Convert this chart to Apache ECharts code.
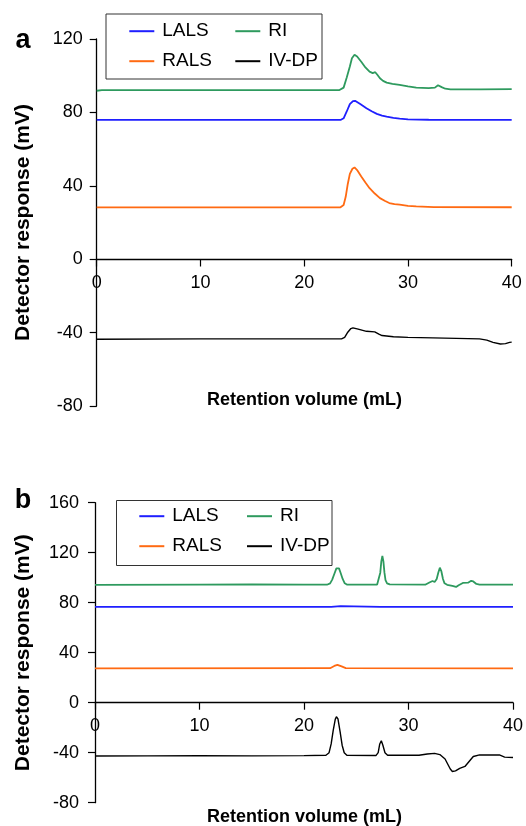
<!DOCTYPE html>
<html>
<head>
<meta charset="utf-8">
<script src="https://cdn.jsdelivr.net/npm/echarts@6/dist/echarts.min.js"></script>
<style>
  html, body { margin: 0; padding: 0; background: #fff; }
  #chart { width: 526px; height: 826px; }
</style>
</head>
<body>
<div id="chart"></div>
<script>
// panel a : [retention volume mL, detector response mV]
var riA = [[0,91.8],[0.5,92.1],[10,92.1],[20,92.1],[23.4,92.2],[23.8,93.5],[24.1,99],[24.4,105],[24.6,109.5],[24.85,111.4],[25.1,110.5],[25.5,107.6],[25.9,104.5],[26.3,102.2],[26.6,101.4],[26.85,101.9],[27.05,100.5],[27.3,98.6],[27.6,97.2],[27.95,96.2],[28.5,95.5],[29.2,95],[30,94.2],[30.8,93.5],[32,93.2],[32.6,93.5],[32.9,94.8],[33.25,93.8],[33.6,92.9],[34.1,92.6],[37,92.6],[40,92.7]];
var lalsA = [[0,75.9],[10,75.9],[20,75.9],[23.5,75.9],[23.8,76.8],[24.1,80.5],[24.4,84.5],[24.7,86.2],[24.9,86.3],[25.4,84.6],[26,82.3],[26.5,80.6],[27,79.2],[27.5,78.3],[27.95,77.7],[28.6,77],[29.2,76.6],[30,76.2],[32,76],[40,75.9]];
var ralsA = [[0,28.2],[10,28.2],[20,28.2],[23.5,28.3],[23.8,29.5],[24.0,34],[24.2,41],[24.4,46.5],[24.65,49.3],[24.85,50],[25.1,48.6],[25.5,45.1],[25.9,41.8],[26.3,38.7],[26.8,35.8],[27.3,33.3],[27.8,31.7],[28.2,30.6],[28.7,30],[29.2,29.7],[30,29.1],[30.8,28.8],[32.5,28.4],[40,28.3]];
var ivdpA = [[0,-43.6],[10,-43.4],[20,-43.4],[23.6,-43.4],[23.9,-42.6],[24.2,-39.8],[24.5,-37.8],[24.7,-37.4],[25.2,-38.1],[26,-39.3],[26.8,-39.6],[27.2,-40.8],[27.5,-41.6],[28.6,-42.3],[30,-42.6],[32.4,-42.9],[36.9,-43.4],[37.6,-44.1],[38.2,-45.3],[38.9,-46.2],[39.4,-46],[39.8,-45.3],[40,-45.2]];

// panel b
var riB = [[0,94.2],[10,94.5],[15,94.6],[20,94.4],[22.2,94.4],[22.5,95.5],[22.7,98.5],[22.9,103],[23.1,107.5],[23.2,108.8],[23.35,107.5],[23.5,104],[23.7,99],[23.9,95.5],[24.1,94.5],[27.0,94.5],[27.15,96],[27.3,104],[27.4,113],[27.5,117.4],[27.6,113],[27.7,104],[27.8,98],[27.95,95.5],[28.2,94.6],[31.6,94.4],[32.0,96.2],[32.3,97.4],[32.5,96.6],[32.7,99],[32.85,104],[33.0,108],[33.15,105],[33.3,99],[33.45,95.5],[33.7,94.3],[34.2,93.4],[34.55,92.6],[34.8,94],[35.2,95.8],[35.7,96],[36.0,97.5],[36.2,97],[36.5,95],[36.8,94.4],[40,94.4]];
var lalsB = [[0,76.6],[22.6,76.6],[22.7,77.3],[23.5,77.3],[23.6,76.6],[27.3,76.6],[27.4,75.9],[27.5,76.6],[40,76.6]];
var ralsB = [[0,27.5],[22.5,27.6],[22.9,29.4],[23.2,30.3],[23.6,29],[24,27.7],[40,27.5]];
var ivdpB = [[0,-42.6],[5,-42.5],[10,-42.4],[15,-42.5],[20,-42.3],[22.1,-42],[22.4,-40],[22.6,-33],[22.8,-22],[23.0,-13],[23.1,-11.2],[23.25,-13],[23.45,-23],[23.65,-34],[23.85,-40],[24.1,-42],[26.9,-42.2],[27.1,-40],[27.25,-33],[27.4,-30.4],[27.55,-34],[27.75,-40],[28,-42],[31,-42],[31.8,-41],[32.5,-40.5],[33.0,-41.5],[33.5,-45],[34.0,-53],[34.2,-55],[34.5,-54.5],[34.9,-52.5],[35.4,-51],[35.8,-47],[36.2,-43],[36.8,-41.7],[38.7,-41.8],[39.2,-43.5],[40,-43.8]];

var names = ['LALS', 'RALS', 'RI', 'IV-DP'];
var colors = ['#1f1fff', '#ff6a12', '#2e9a5e', '#000000'];

var font = 'Liberation Sans, Arial, sans-serif';

var chart = echarts.init(document.getElementById('chart'));

function mkSeries(name, data, gi) {
  var c = colors[names.indexOf(name)];
  return {
    name: name, type: 'line', data: data,
    xAxisIndex: gi, yAxisIndex: gi,
    symbol: 'none', showSymbol: false, silent: true,
    lineStyle: { color: c, width: name === 'IV-DP' ? 1.4 : 1.8 },
    itemStyle: { color: c },
    z: 3
  };
}

// x axis sits at y = 0, inside the plot: pushed up from the bottom with a negative offset
function mkX(gi, margin, offset) {
  return {
    type: 'value', gridIndex: gi, min: 0, max: 40, interval: 10,
    position: 'bottom', offset: offset,
    axisLine: { onZero: false, lineStyle: { color: '#000', width: 1.3 } },
    axisTick: { length: 7, lineStyle: { color: '#000', width: 1.2 } },
    axisLabel: { fontSize: 18, color: '#000', margin: margin, fontFamily: font },
    splitLine: { show: false }
  };
}

function mkY(gi, min, max, margin, gap) {
  return {
    type: 'value', gridIndex: gi, min: min, max: max, interval: 40,
    axisLine: { show: true, onZero: false, lineStyle: { color: '#000', width: 1.3 } },
    axisTick: { show: true, length: 7, lineStyle: { color: '#000', width: 1.2 } },
    axisLabel: { fontSize: 18, color: '#000', margin: margin, fontFamily: font },
    splitLine: { show: false },
    name: 'Detector response (mV)', nameLocation: 'middle', nameGap: gap,
    nameTextStyle: { fontSize: 21, fontWeight: 'bold', color: '#000', fontFamily: font }
  };
}

function mkLegend(data, left, top) {
  return {
    data: data, orient: 'vertical', left: left, top: top,
    padding: 0, itemGap: 11, itemWidth: 25, itemHeight: 20,
    itemStyle: { opacity: 0 },
    textStyle: { fontSize: 19, color: '#000', fontFamily: font, padding: [0, 0, 0, 3] },
    selectedMode: false
  };
}

chart.setOption({
  animation: false,
  backgroundColor: '#fff',
  grid: [
    { left: 96.7, right: 14.3, top: 39, bottom: 420 },
    { left: 95, right: 12.7, top: 502.7, bottom: 23.3 }
  ],
  xAxis: [mkX(0, 15, -146.5), mkX(1, 14, -100)],
  yAxis: [mkY(0, -80, 120, 14, 63), mkY(1, -80, 160, 16, 61)],
  legend: [
    mkLegend(['LALS', 'RALS'], 128.3, 21.7),
    mkLegend(['RI', 'IV-DP'], 234.3, 21.7),
    mkLegend(['LALS', 'RALS'], 138.3, 506.7),
    mkLegend(['RI', 'IV-DP'], 246, 506.7)
  ],
  graphic: [
    { type: 'rect', shape: { x: 106, y: 14, width: 216, height: 65 }, style: { fill: '#fff', stroke: '#333', lineWidth: 1 }, z: 1 },
    { type: 'rect', shape: { x: 116.5, y: 500.5, width: 215.5, height: 65 }, style: { fill: '#fff', stroke: '#333', lineWidth: 1 }, z: 1 },
    { type: 'text', style: { text: 'a', x: 23, y: 41, textAlign: 'center', textVerticalAlign: 'middle', font: 'bold 27px ' + font, fill: '#000' } },
    { type: 'text', style: { text: 'b', x: 23, y: 501, textAlign: 'center', textVerticalAlign: 'middle', font: 'bold 27px ' + font, fill: '#000' } },
    { type: 'text', style: { text: 'Retention volume (mL)', x: 304.5, y: 400, textAlign: 'center', textVerticalAlign: 'middle', font: 'bold 18px ' + font, fill: '#000' } },
    { type: 'text', style: { text: 'Retention volume (mL)', x: 304.5, y: 817, textAlign: 'center', textVerticalAlign: 'middle', font: 'bold 18px ' + font, fill: '#000' } }
  ],
  series: [
    mkSeries('RI', riA, 0), mkSeries('LALS', lalsA, 0), mkSeries('RALS', ralsA, 0), mkSeries('IV-DP', ivdpA, 0),
    mkSeries('RI', riB, 1), mkSeries('LALS', lalsB, 1), mkSeries('RALS', ralsB, 1), mkSeries('IV-DP', ivdpB, 1)
  ]
});
</script>
</body>
</html>
